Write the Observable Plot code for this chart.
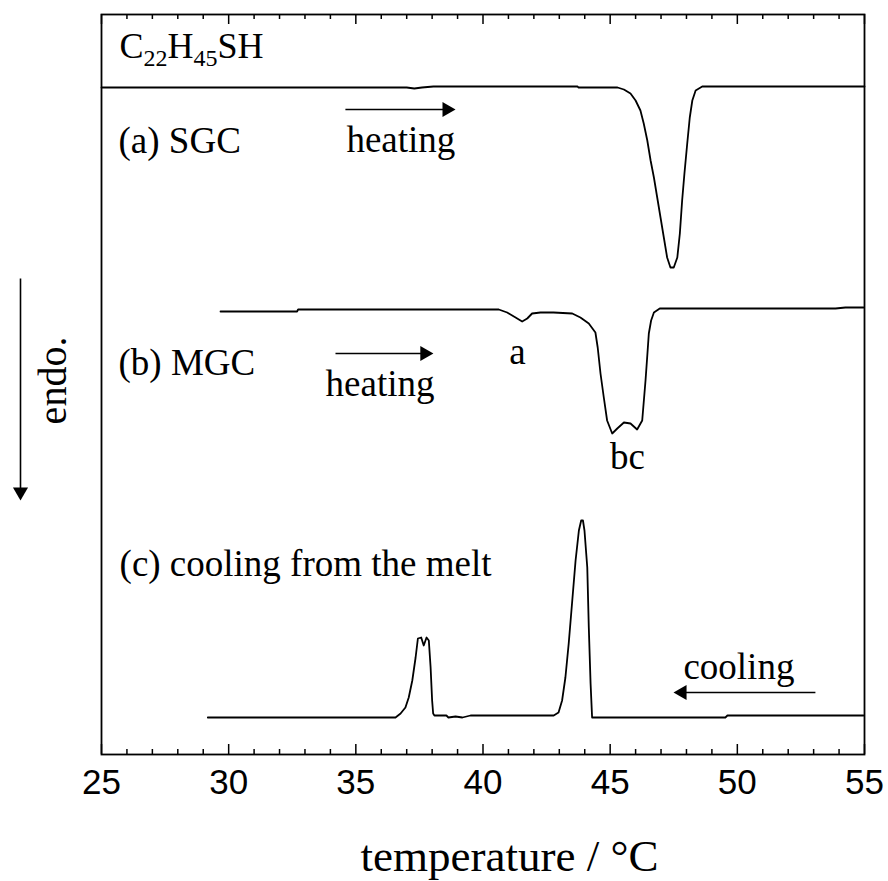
<!DOCTYPE html>
<html><head><meta charset="utf-8">
<script src="https://cdn.jsdelivr.net/npm/d3@7"></script>
<script src="https://cdn.jsdelivr.net/npm/@observablehq/plot@0.6"></script>
<style>body{margin:0;background:#fff}</style>
</head><body><div id="chart"></div>
<script>
// ---- data ----
const titleParts = [["C", false], ["22", true], ["H", false], ["45", true], ["SH", false]];
const xTickLabels = [25, 30, 35, 40, 45, 50, 55];
const minorTicks = [26,27,28,29,31,32,33,34,36,37,38,39,41,42,43,44,46,47,48,49,51,52,53,54];

// (a) SGC heating trace: temperature (°C), DSC signal (arb. units, offset)
const sgcTemp = [25.0, 37.0, 37.3, 37.6, 38.05, 43.72, 43.75, 45.29, 45.54, 45.80, 46.00, 46.19, 46.32, 46.46, 46.59, 46.72, 46.85, 46.98, 47.11, 47.24, 47.37, 47.50, 47.64, 47.74, 47.83, 47.92, 48.03, 48.13, 48.23, 48.36, 48.62, 55.0];
const sgcSignal = [667, 667, 666, 667, 668, 668, 667, 667, 665, 661, 654, 644, 631, 614, 594, 577, 557, 537, 517, 497, 487, 487, 497, 521, 554, 581, 611, 637, 654, 664, 668, 668];

// (b) MGC heating trace
const mgcTemp = [29.68, 32.69, 32.73, 40.62, 40.95, 41.28, 41.54, 41.74, 41.93, 42.26, 42.65, 42.77, 43.51, 43.83, 44.16, 44.42, 44.51, 44.62, 44.75, 44.88, 45.08, 45.28, 45.54, 45.80, 46.06, 46.26, 46.39, 46.46, 46.52, 46.61, 46.72, 46.95, 53.86, 54.25, 54.76, 54.96];
const mgcSignal = [443, 443, 445, 445, 442, 437, 433, 436, 441, 442, 442, 442, 441, 437, 431, 422, 407, 381, 357, 334, 321, 326, 332, 331, 325, 334, 374, 399, 421, 434, 442, 446, 446, 447, 447, 447];

// (c) cooling from the melt
const coolTemp = [29.18, 36.56, 36.76, 36.95, 37.08, 37.22, 37.35, 37.44, 37.57, 37.67, 37.78, 37.87, 37.94, 38.00, 38.04, 38.09, 38.56, 38.64, 38.92, 39.19, 39.51, 42.78, 42.97, 43.11, 43.24, 43.37, 43.51, 43.64, 43.77, 43.86, 43.93, 43.99, 44.10, 44.16, 44.23, 44.29, 49.53, 49.61, 54.96];
const coolSignal = [37, 37, 41, 47, 57, 74, 97, 116, 117, 109, 117, 114, 87, 54, 41, 39, 39, 37, 38, 37, 39, 39, 42, 54, 77, 111, 154, 194, 224, 234, 234, 224, 187, 127, 71, 37, 37, 39, 39];

// ---- build ----
const zip = (xs, ys) => xs.map((x, i) => ({x, y: ys[i]}));
const serif = "'Liberation Serif', 'Times New Roman', Times, serif";
const sans = "'Liberation Sans', Arial, Helvetica, sans-serif";
const titleText = titleParts.map(d => d[0]).join("");

const labels = [
  {x: 25.67, y: 602, text: "(a) SGC", anchor: "start"},
  {x: 34.63, y: 603, text: "heating", anchor: "start"},
  {x: 25.67, y: 380, text: "(b) MGC", anchor: "start"},
  {x: 33.81, y: 359, text: "heating", anchor: "start"},
  {x: 41.36, y: 391, text: "a", anchor: "middle"},
  {x: 45.68, y: 286, text: "bc", anchor: "middle"},
  {x: 25.71, y: 179, text: "(c) cooling from the melt", anchor: "start"},
  {x: 47.88, y: 76, text: "cooling", anchor: "start"}
];

// arrows: tail -> tip (data units); head drawn as filled triangle
const pxPerDeg = 763 / 30;
const headR = 5.6;
const arrows = [
  {x1: 34.59, y1: 645, x2: 38.92, y2: 645},
  {x1: 34.20, y1: 401, x2: 38.05, y2: 401},
  {x1: 53.07, y1: 62, x2: 47.49, y2: 62},
  {x1: 21.815, y1: 476, x2: 21.815, y2: 254}
].map(a => {
  const dxp = (a.x2 - a.x1) * pxPerDeg, dyp = (a.y2 - a.y1);
  const len = Math.hypot(dxp, dyp);
  const ux = dxp / len, uy = dyp / len;
  const side = Math.sqrt(4 * Math.PI * headR * headR / Math.sqrt(3));
  const back = side * Math.sqrt(3) / 2 * 2 / 3;
  const hx = a.x2 - ux * back / pxPerDeg, hy = a.y2 - uy * back;
  const rot = Math.abs(ux) > 0.5 ? (ux > 0 ? 90 : -90) : (uy < 0 ? 180 : 0);
  return {...a, hx, hy, rot};
});

const chart = Plot.plot({
  width: 888,
  height: 881,
  marginLeft: 101,
  marginRight: 24,
  marginTop: 14,
  marginBottom: 127,
  style: {fontFamily: serif, background: "white", color: "black"},
  x: {domain: [25, 55]},
  y: {domain: [0, 740], axis: null},
  marks: [
    Plot.frame({stroke: "black", strokeWidth: 1.8}),
    // inward ticks (bottom and top)
    Plot.ruleX(minorTicks, {x: d => d, y1: 0, y2: 5, stroke: "black", strokeWidth: 1.5}),
    Plot.ruleX(minorTicks, {x: d => d, y1: 740, y2: 735, stroke: "black", strokeWidth: 1.5}),
    Plot.ruleX(xTickLabels, {x: d => d, y1: 0, y2: 10, stroke: "black", strokeWidth: 1.5}),
    Plot.ruleX(xTickLabels, {x: d => d, y1: 740, y2: 730, stroke: "black", strokeWidth: 1.5}),
    Plot.axisX({ticks: xTickLabels, tickSize: 0, tickPadding: 15, fontSize: 35, fontFamily: sans, label: null, tickFormat: d => String(d)}),
    // traces
    Plot.line(zip(sgcTemp, sgcSignal), {x: "x", y: "y", stroke: "black", strokeWidth: 1.8}),
    Plot.line(zip(mgcTemp, mgcSignal), {x: "x", y: "y", stroke: "black", strokeWidth: 1.8}),
    Plot.line(zip(coolTemp, coolSignal), {x: "x", y: "y", stroke: "black", strokeWidth: 1.8}),
    // arrows
    Plot.link(arrows, {x1: "x1", y1: "y1", x2: "hx", y2: "hy", stroke: "black", strokeWidth: 1.6}),
    Plot.dot(arrows, {x: "hx", y: "hy", symbol: "triangle", r: headR, fill: "black", stroke: null, rotate: "rot"}),
    // labels
    Plot.text(labels, {x: "x", y: "y", text: "text", textAnchor: "start", lineAnchor: "bottom", fontSize: 37, fontFamily: serif, fill: "black", filter: d => d.anchor === "start"}),
    Plot.text(labels, {x: "x", y: "y", text: "text", textAnchor: "middle", lineAnchor: "bottom", fontSize: 37, fontFamily: serif, fill: "black", filter: d => d.anchor === "middle"}),
    Plot.text([titleText], {x: 25.71, y: 697, text: d => d, textAnchor: "start", lineAnchor: "bottom", fontSize: 36, fontFamily: serif, fill: "black"}),
    Plot.text(["endo."], {x: 23.585, y: 374, text: d => d, rotate: -90, textAnchor: "middle", lineAnchor: "bottom", fontSize: 40, fontFamily: serif, fill: "black"}),
    Plot.text(["temperature / °C"], {x: 41.04, y: -116, text: d => d, textAnchor: "middle", lineAnchor: "bottom", fontSize: 45, fontFamily: serif, fill: "black"})
  ]
});

// subscripts in the title
const ns = "http://www.w3.org/2000/svg";
const tEl = [...chart.querySelectorAll("text")].find(e => e.textContent === titleText);
if (tEl) {
  tEl.textContent = "";
  let prevSub = false;
  for (const [s, sub] of titleParts) {
    const ts = document.createElementNS(ns, "tspan");
    ts.textContent = s;
    if (sub) { ts.setAttribute("font-size", "24"); if (!prevSub) ts.setAttribute("dy", "8"); }
    else if (prevSub) ts.setAttribute("dy", "-8");
    tEl.appendChild(ts);
    prevSub = sub;
  }
}
document.getElementById("chart").appendChild(chart);
</script>
</body></html>
